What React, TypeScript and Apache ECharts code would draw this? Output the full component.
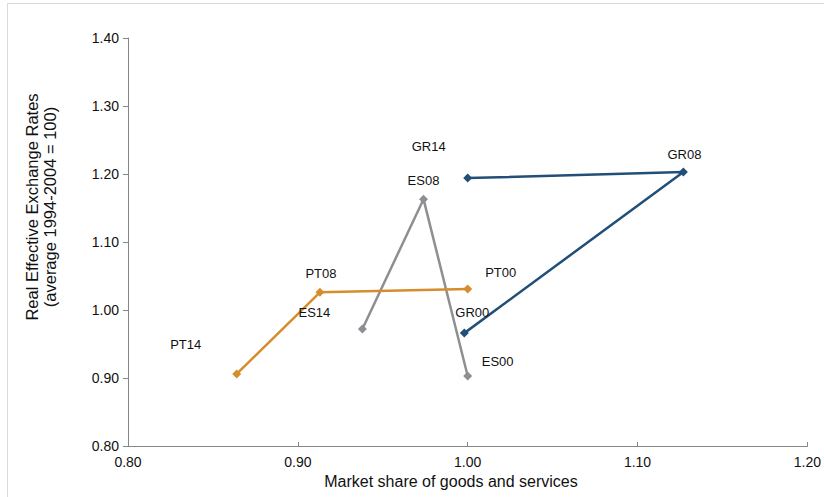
import React, { useEffect, useRef } from "react";
import * as echarts from "echarts";

const ptNames = ["PT14", "PT08", "PT00"];
const ptX = [0.864, 0.913, 1.0];
const ptY = [0.906, 1.026, 1.031];

const grNames = ["GR00", "GR08", "GR14"];
const grX = [0.998, 1.127, 1.0];
const grY = [0.966, 1.203, 1.194];

const esNames = ["ES00", "ES08", "ES14"];
const esX = [1.0, 0.974, 0.938];
const esY = [0.903, 1.163, 0.972];

const labelOffsets: Record<string, number[]> = {
  PT00: [33, -16],
  PT08: [1, -19],
  PT14: [-51, -29],
  GR00: [8, -21],
  GR08: [1, -17],
  GR14: [-39, -32],
  ES00: [30, -14],
  ES08: [0, -19],
  ES14: [-48, -17],
};

const xTicks = ["0.80", "0.90", "1.00", "1.10", "1.20"];

function buildData(names: string[], xs: number[], ys: number[]) {
  return names.map((n, i) => ({
    name: n,
    value: [xs[i], ys[i]],
    label: {
      show: true,
      formatter: n,
      position: "inside",
      offset: labelOffsets[n],
      color: "#111111",
      fontFamily: "Liberation Sans, Arial, sans-serif",
      fontSize: 13,
    },
  }));
}

function mkSeries(name: string, color: string, data: any[]) {
  return {
    name,
    type: "line",
    data,
    symbol: "diamond",
    symbolSize: 9,
    lineStyle: { color, width: 2.5 },
    itemStyle: { color },
    z: 3,
  };
}

export default function App() {
  const ref = useRef<HTMLDivElement>(null);
  useEffect(() => {
    const chart = echarts.init(ref.current!, undefined, {
      renderer: "svg",
      width: 824,
      height: 497,
    });
    const font = "Liberation Sans, Arial, sans-serif";
    chart.setOption({
      animation: false,
      backgroundColor: "#ffffff",
      grid: { left: 128, top: 38, width: 684, height: 408, containLabel: false },
      xAxis: {
        type: "value",
        min: 0.8,
        max: 1.2,
        interval: 0.1,
        axisLine: { show: true, onZero: false, lineStyle: { color: "#868686", width: 1 } },
        axisTick: { show: true, inside: true, length: 4, lineStyle: { color: "#868686" } },
        splitLine: { show: false },
        axisLabel: {
          color: "#111111",
          fontFamily: font,
          fontSize: 14,
          margin: 9,
          formatter: (v: number) => xTicks[Math.round((v - 0.8) * 10)] ?? v.toFixed(2),
        },
      },
      yAxis: {
        type: "value",
        min: 0.8,
        max: 1.4,
        interval: 0.1,
        axisLine: { show: true, onZero: false, lineStyle: { color: "#868686", width: 1 } },
        axisTick: { show: true, length: 5, lineStyle: { color: "#868686" } },
        splitLine: { show: false },
        axisLabel: {
          color: "#111111",
          fontFamily: font,
          fontSize: 14,
          margin: 9,
          formatter: (v: number) => v.toFixed(2),
        },
      },
      graphic: [
        {
          type: "rect",
          shape: { x: 7.5, y: 3.5, width: 900, height: 600 },
          style: { fill: "none", stroke: "#d9d9d9", lineWidth: 1 },
          silent: true,
        },
        {
          type: "text",
          x: 41,
          y: 207,
          rotation: Math.PI / 2,
          style: {
            text: "Real Effective Exchange Rates\n(average 1994-2004 = 100)",
            fill: "#111111",
            font: "16.5px Liberation Sans, Arial, sans-serif",
            align: "center",
            verticalAlign: "middle",
            lineHeight: 18,
          },
        },
        {
          type: "text",
          x: 451,
          y: 481,
          style: {
            text: "Market share of goods and services",
            fill: "#111111",
            font: "16px Liberation Sans, Arial, sans-serif",
            align: "center",
            verticalAlign: "middle",
          },
        },
      ],
      series: [
        mkSeries("ES", "#8e8f93", buildData(esNames, esX, esY)),
        mkSeries("GR", "#214f78", buildData(grNames, grX, grY)),
        mkSeries("PT", "#d68d2e", buildData(ptNames, ptX, ptY)),
      ],
    });
    return () => chart.dispose();
  }, []);
  return (
    <div
      ref={ref}
      style={{ position: "fixed", left: 0, top: 0, width: 824, height: 497, overflow: "hidden" }}
    />
  );
}
